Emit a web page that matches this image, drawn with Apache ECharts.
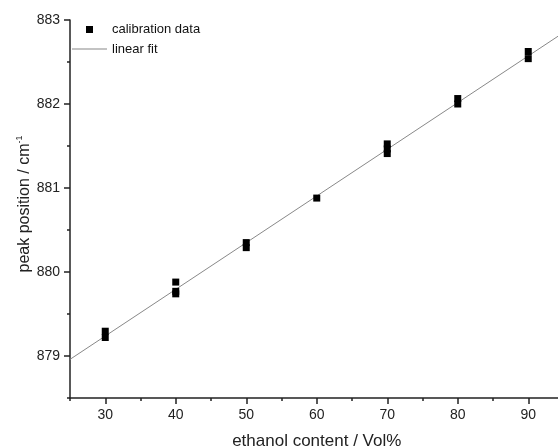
<!DOCTYPE html>
<html>
<head>
<meta charset="utf-8">
<script src="https://cdn.jsdelivr.net/npm/echarts@6/dist/echarts.min.js"></script>
<style>
  html, body { margin: 0; padding: 0; background: #fff; }
  #chart { width: 558px; height: 447px; }
</style>
</head>
<body>
<div id="chart"></div>
<script>
// calibration data
var conc = [30, 30, 40, 40, 40, 50, 50, 60, 70, 70, 70, 80, 80, 90, 90];
var peak = [879.295, 879.22, 879.88, 879.77, 879.74, 880.35, 880.29, 880.88,
            881.525, 881.465, 881.41, 882.065, 882.0, 882.625, 882.54];

// linear fit line, end points
var fitX = [25, 95];
var fitY = [878.96, 882.85];

// ticks
var xMajor = [30, 40, 50, 60, 70, 80, 90];
var xMinor = [25, 35, 45, 55, 65, 75, 85, 95];
var yMajor = [879, 880, 881, 882, 883];
var yMinor = [878.5, 879.5, 880.5, 881.5, 882.5];

var font = 'Liberation Sans, Arial, sans-serif';
var axisColor = '#222';

var chart = echarts.init(document.getElementById('chart'));

var option = {
  animation: false,
  backgroundColor: '#fff',
  textStyle: { fontFamily: font },
  grid: {
    left: 70,
    top: 20,
    bottom: 49,
    right: -5.5, // the plot runs past the right edge
    outerBoundsMode: 'none',
    containLabel: false
  },
  legend: {
    orient: 'vertical',
    left: 72,
    top: 23,
    padding: 0,
    itemWidth: 35,
    itemHeight: 7,
    itemGap: 6.5,
    textStyle: { fontSize: 13, color: '#111', fontFamily: font },
    data: [
      { name: 'calibration data', icon: 'path://M0,0h1v1h-1z' },
      { name: 'linear fit', icon: 'path://M0,0h35v1h-35z' }
    ]
  },
  xAxis: [{
    type: 'value',
    min: 25,
    max: 95,
    position: 'bottom',
    name: 'ethanol content / Vol%',
    nameLocation: 'middle',
    nameGap: 35,
    nameMoveOverlap: false,
    nameTextStyle: { fontSize: 17, color: '#222', fontFamily: font },
    axisLine: { show: true, onZero: false, lineStyle: { color: axisColor, width: 1.5 } },
    axisTick: { show: true, customValues: xMajor, length: 6, lineStyle: { color: axisColor, width: 1.5 } },
    axisLabel: { customValues: xMajor, margin: 10, fontSize: 14, color: '#222', fontFamily: font },
    splitLine: { show: false }
  }, {
    type: 'value',
    min: 25,
    max: 95,
    position: 'bottom',
    axisLine: { show: false },
    axisTick: { show: true, customValues: xMinor, length: 3, lineStyle: { color: axisColor, width: 1.5 } },
    axisLabel: { show: false },
    splitLine: { show: false }
  }],
  yAxis: [{
    type: 'value',
    min: 878.5,
    max: 883,
    position: 'left',
    name: 'peak position / cm{sup|-1}',
    nameLocation: 'middle',
    nameGap: 35.5,
    nameMoveOverlap: false,
    nameTextStyle: {
      fontSize: 16,
      color: '#222',
      fontFamily: font,
      padding: [0, 0, 0, 10],
      rich: { sup: { fontSize: 9, color: '#222', fontFamily: font, padding: [0, 0, 10, 0] } }
    },
    axisLine: { show: true, onZero: false, lineStyle: { color: axisColor, width: 1.5 } },
    axisTick: { show: true, customValues: yMajor, length: 6, lineStyle: { color: axisColor, width: 1.5 } },
    axisLabel: { customValues: yMajor, margin: 10, fontSize: 14, color: '#222', fontFamily: font },
    splitLine: { show: false }
  }, {
    type: 'value',
    min: 878.5,
    max: 883,
    position: 'left',
    axisLine: { show: false },
    axisTick: { show: true, customValues: yMinor, length: 3, lineStyle: { color: axisColor, width: 1.5 } },
    axisLabel: { show: false },
    splitLine: { show: false }
  }],
  series: [{
    name: 'linear fit',
    type: 'line',
    xAxisIndex: 0,
    yAxisIndex: 0,
    data: fitX.map(function (x, i) { return [x, fitY[i]]; }),
    symbol: 'none',
    lineStyle: { color: '#888', width: 1 },
    itemStyle: { color: '#888' },
    z: 2
  }, {
    name: 'calibration data',
    type: 'scatter',
    xAxisIndex: 0,
    yAxisIndex: 0,
    data: conc.map(function (x, i) { return [x, peak[i]]; }),
    symbol: 'rect',
    symbolSize: 7,
    itemStyle: { color: '#000', opacity: 1 },
    z: 3
  }]
};

chart.setOption(option);
</script>
</body>
</html>
